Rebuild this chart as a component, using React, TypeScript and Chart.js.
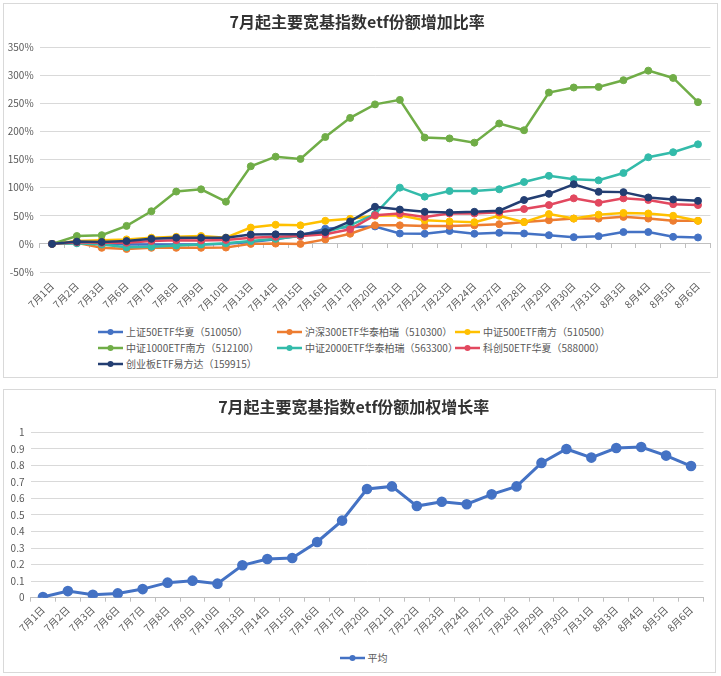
import React, { useEffect, useRef } from 'react';
import { Chart, registerables } from 'chart.js';

Chart.register(...registerables);

const categories = ['7月1日', '7月2日', '7月3日', '7月6日', '7月7日', '7月8日', '7月9日', '7月10日', '7月13日', '7月14日', '7月15日', '7月16日', '7月17日', '7月20日', '7月21日', '7月22日', '7月23日', '7月24日', '7月27日', '7月28日', '7月29日', '7月30日', '7月31日', '8月3日', '8月4日', '8月5日', '8月6日'];

const seriesNames = ['上证50ETF华夏（510050）', '沪深300ETF华泰柏瑞（510300）', '中证500ETF南方（510500）', '中证1000ETF南方（512100）', '中证2000ETF华泰柏瑞（563300）', '科创50ETF华夏（588000）', '创业板ETF易方达（159915）'];
const seriesColors = ['#4472C4', '#ED7D31', '#FFC000', '#70AD47', '#33BBAA', '#E2485F', '#233E72'];

const sz50 = [0, 2, 1, -1, -1, -1, -1, 0, 3.5, 8, 15, 27, 30, 31, 18.5, 18, 23, 18, 19.6, 18.5, 15.5, 12, 13.7, 21, 21, 12.5, 11.4];
const hs300 = [0, 2, -7, -9, -7, -7, -7, -6.5, 0, 0.5, 0, 8, 18, 33, 33, 32, 32, 33, 35, 39, 42, 45, 45, 48, 45, 41, 41];
const zz500 = [0, 5, 6.5, 8, 11, 12.5, 14, 11, 29, 34, 33, 41, 44.5, 50, 51, 42, 40, 38.6, 50, 38.6, 53, 45, 52, 55, 54, 50, 41];
const zz1000 = [0, 14, 15.5, 32, 58, 93, 97, 75, 138, 155, 151, 190, 224, 248, 256, 189, 187.5, 180, 214, 202, 269, 278, 279, 291, 308, 295, 252];
const zz2000 = [0, 1, -1, -6, -5, -3, -1, 1, 5, 9, 14, 21, 33, 53, 100, 84, 94, 94, 97, 110, 121, 115, 113, 126, 154, 163, 177];
const kc50 = [0, 3, 2, 2, 5, 6.5, 6, 7, 11, 12.5, 14, 17, 26, 51, 54, 48, 54, 54, 56, 62, 69, 81, 73, 81, 78, 70.6, 69];
const cyb = [0, 4, 3.5, 5, 9, 11, 11, 11, 16.6, 17, 17, 21, 40, 66, 61, 57, 56, 57, 59, 78, 89, 106, 92.5, 92, 82.5, 79, 76.5];
const seriesValues = [sz50, hs300, zz500, zz1000, zz2000, kc50, cyb];

const topYTicks = [-50, 0, 50, 100, 150, 200, 250, 300, 350];
const topYTickLabels = ['-50%', '0%', '50%', '100%', '150%', '200%', '250%', '300%', '350%'];

const avgName = '平均';
const avgColor = '#4472C4';
const avgValues = [0.004, 0.04, 0.018, 0.026, 0.052, 0.091, 0.103, 0.085, 0.196, 0.234, 0.24, 0.337, 0.466, 0.657, 0.673, 0.554, 0.58, 0.565, 0.625, 0.673, 0.815, 0.899, 0.847, 0.905, 0.911, 0.859, 0.796];
const botYTicks = [0, 0.1, 0.2, 0.3, 0.4, 0.5, 0.6, 0.7, 0.8, 0.9, 1];
const botYTickLabels = ['0', '0.1', '0.2', '0.3', '0.4', '0.5', '0.6', '0.7', '0.8', '0.9', '1'];

const topTitle = '7月起主要宽基指数etf份额增加比率';
const botTitle = '7月起主要宽基指数etf份额加权增长率';

const FONT = "'Noto Sans CJK SC', 'Noto Sans', sans-serif";
const TICK_COLOR = '#595959';
const GRID_COLOR = '#d9d9d9';
const AXIS_COLOR = '#bfbfbf';

function Marker({ color }: { color: string }) {
  return (
    <svg width="25" height="10" style={{ display: 'block', flex: '0 0 auto' }}>
      <line x1="0" y1="5" x2="25" y2="5" stroke={color} strokeWidth="2.5" />
      <circle cx="12.5" cy="5" r="3" fill={color} />
    </svg>
  );
}

export default function App() {
  const topRef = useRef<HTMLCanvasElement>(null);
  const botRef = useRef<HTMLCanvasElement>(null);

  useEffect(() => {
    Chart.defaults.font.family = FONT;
    const n = seriesValues.length;
    const c1 = new Chart(topRef.current as HTMLCanvasElement, {
      type: 'line',
      data: {
        labels: categories,
        datasets: seriesValues.map((vals, i) => ({
          label: seriesNames[i],
          data: vals,
          borderColor: seriesColors[i],
          backgroundColor: seriesColors[i],
          pointBackgroundColor: seriesColors[i],
          pointBorderColor: seriesColors[i],
          pointRadius: 3.5,
          pointHoverRadius: 3.5,
          pointBorderWidth: 1,
          borderWidth: 2.5,
          tension: 0,
          order: n - i,
          xAxisID: 'x',
          yAxisID: 'y',
        })),
      },
      options: {
        responsive: false,
        animation: false,
        events: [],
        layout: { padding: { left: 0, right: 5.6, top: 0, bottom: 0 } },
        plugins: {
          legend: { display: false },
          tooltip: { enabled: false },
          title: {
            display: true,
            text: topTitle,
            color: '#333333',
            font: { size: 16, weight: 'bold', family: FONT },
            padding: { top: 8, bottom: 15.8 },
          },
        },
        scales: {
          x: {
            type: 'category',
            offset: true,
            grid: { display: false, drawTicks: false },
            border: { display: false },
            ticks: {
              autoSkip: false,
              maxRotation: 45,
              minRotation: 45,
              padding: 8,
              color: TICK_COLOR,
              font: { size: 10, family: FONT },
            },
            afterFit: (s: any) => { s.height = 44; },
          },
          x0: {
            type: 'category',
            axis: 'x',
            position: { y: 0 },
            offset: true,
            ticks: { display: false },
            grid: { drawOnChartArea: false, drawTicks: true, tickLength: 4, offset: true, color: AXIS_COLOR },
            border: { display: true, color: AXIS_COLOR, width: 1 },
            afterFit: (s: any) => { s.height = 0; },
          },
          y: {
            type: 'linear',
            min: -50,
            max: 350,
            afterBuildTicks: (s: any) => { s.ticks = topYTicks.map((value) => ({ value })); },
            ticks: {
              padding: 6,
              color: TICK_COLOR,
              font: { size: 10, family: FONT },
              callback: (_v: any, i: number) => topYTickLabels[i],
            },
            grid: { color: GRID_COLOR, drawTicks: false },
            border: { display: false },
            afterFit: (s: any) => { s.width = 35.6; },
          },
        },
      } as any,
    });

    const c2 = new Chart(botRef.current as HTMLCanvasElement, {
      type: 'line',
      data: {
        labels: categories,
        datasets: [{
          label: avgName,
          data: avgValues,
          borderColor: avgColor,
          backgroundColor: avgColor,
          pointBackgroundColor: avgColor,
          pointBorderColor: avgColor,
          pointRadius: 3.8,
          pointHoverRadius: 3.8,
          borderWidth: 3,
          tension: 0,
        }],
      },
      options: {
        responsive: false,
        animation: false,
        events: [],
        layout: { padding: { left: 0, right: 11.5, top: 0, bottom: 0 } },
        plugins: {
          legend: { display: false },
          tooltip: { enabled: false },
          title: {
            display: true,
            text: botTitle,
            color: '#333333',
            font: { size: 16, weight: 'bold', family: FONT },
            padding: { top: 7.4, bottom: 15.7 },
          },
        },
        scales: {
          x: {
            type: 'category',
            offset: true,
            grid: { display: true, drawOnChartArea: false, drawTicks: true, tickLength: 4, offset: true, color: AXIS_COLOR },
            border: { display: true, color: AXIS_COLOR, width: 1 },
            ticks: {
              autoSkip: false,
              maxRotation: 45,
              minRotation: 45,
              padding: 2,
              color: TICK_COLOR,
              font: { size: 10, family: FONT },
            },
            afterFit: (s: any) => { s.height = 42.3; },
          },
          y: {
            type: 'linear',
            min: 0,
            max: 1,
            afterBuildTicks: (s: any) => { s.ticks = botYTicks.map((value) => ({ value })); },
            ticks: {
              padding: 6,
              color: TICK_COLOR,
              font: { size: 10, family: FONT },
              callback: (_v: any, i: number) => botYTickLabels[i],
            },
            grid: { color: GRID_COLOR, drawTicks: false },
            border: { display: false },
            afterFit: (s: any) => { s.width = 26.5; },
          },
        },
      } as any,
    });

    return () => {
      c1.destroy();
      c2.destroy();
    };
  }, []);

  const legendText: React.CSSProperties = {
    fontFamily: FONT,
    fontSize: 10,
    color: TICK_COLOR,
    whiteSpace: 'nowrap',
    marginLeft: 3,
    lineHeight: '12px',
  };

  return (
    <div style={{ position: 'absolute', left: 0, top: 0, width: 721, height: 676, background: '#ffffff', overflow: 'hidden' }}>
      <div style={{ position: 'absolute', left: 3, top: 3, width: 715, height: 375, boxSizing: 'border-box', border: '1px solid #d9d9d9', background: '#fff' }}>
        <canvas ref={topRef} width={712} height={312} style={{ position: 'absolute', left: 0, top: 0, width: 712, height: 312 }} />
        <div style={{ position: 'absolute', left: 94, top: 319.7, display: 'grid', gridTemplateColumns: '179px 178px 181px', gridAutoRows: '16px', alignItems: 'center' }}>
          {seriesNames.map((name, i) => (
            <div key={name} style={{ display: 'flex', alignItems: 'center' }}>
              <Marker color={seriesColors[i]} />
              <span style={legendText}>{name}</span>
            </div>
          ))}
        </div>
      </div>
      <div style={{ position: 'absolute', left: 3, top: 389, width: 713, height: 284, boxSizing: 'border-box', border: '1px solid #d9d9d9', background: '#fff' }}>
        <canvas ref={botRef} width={711} height={250} style={{ position: 'absolute', left: 0, top: 0, width: 711, height: 250 }} />
        <div style={{ position: 'absolute', left: 0, width: 711, top: 262, display: 'flex', justifyContent: 'center', alignItems: 'center' }}>
          <div style={{ display: 'flex', alignItems: 'center', marginLeft: 8 }}>
            <Marker color={avgColor} />
            <span style={legendText}>{avgName}</span>
          </div>
        </div>
      </div>
    </div>
  );
}
